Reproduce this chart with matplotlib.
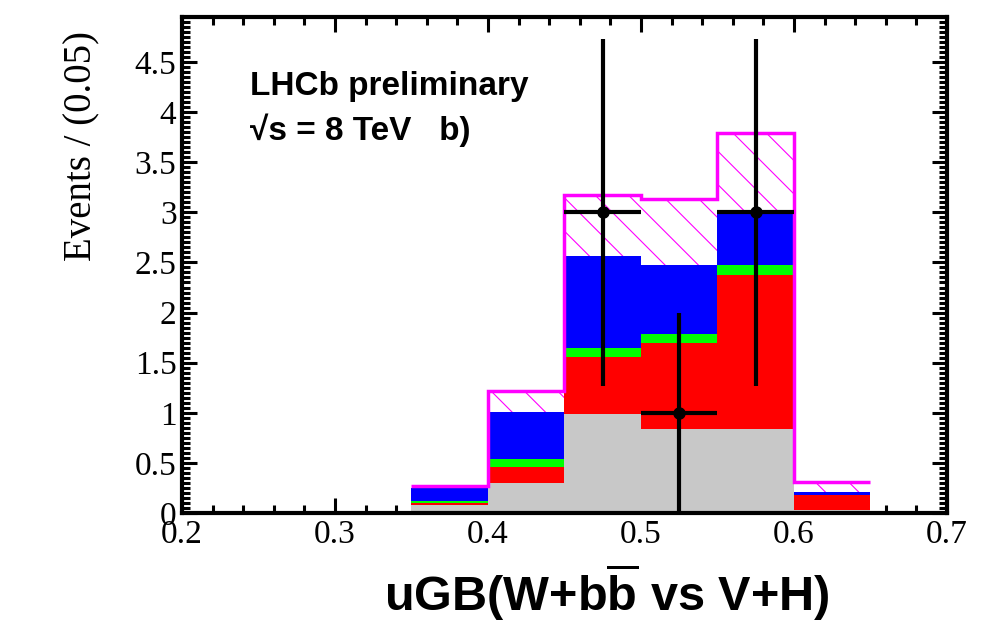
import numpy as np
import matplotlib
matplotlib.use("Agg")
import matplotlib.pyplot as plt
from matplotlib.ticker import MultipleLocator

# ------------------------------------------------------------------
# Data (stacked components per 0.05 bin)
# ------------------------------------------------------------------
bin_edges = [0.35, 0.40, 0.45, 0.50, 0.55, 0.60, 0.65]
grey_vals = [0.08, 0.30, 0.99, 0.84, 0.84, 0.03]
red_vals = [0.02, 0.16, 0.57, 0.86, 1.53, 0.15]
green_vals = [0.02, 0.08, 0.09, 0.09, 0.10, 0.00]
blue_vals = [0.13, 0.47, 0.91, 0.68, 0.54, 0.03]
hatch_vals = [0.02, 0.21, 0.61, 0.66, 0.78, 0.10]

data_x = [0.475, 0.525, 0.575]
data_y = [3.0, 1.0, 3.0]
data_yerr = [1.73, 1.0, 1.73]
data_xerr = [0.025, 0.025, 0.025]

xtick_labels = ["0.2", "0.3", "0.4", "0.5", "0.6", "0.7"]
ytick_labels = ["0", "0.5", "1", "1.5", "2", "2.5", "3", "3.5", "4", "4.5"]

plt.rcParams["mathtext.fontset"] = "custom"
plt.rcParams["mathtext.bf"] = "Liberation Sans:bold"
plt.rcParams["mathtext.rm"] = "Liberation Sans:bold"
plt.rcParams["hatch.linewidth"] = 0.8

fig = plt.figure(figsize=(10, 6.26), dpi=100)
ax = fig.add_axes([0.182, 0.1805, 0.765, 0.7925])

left = np.array(bin_edges[:-1])
width = np.diff(bin_edges)
bottom = np.zeros(len(left))
layers = [
    (grey_vals, "#c8c8c8"),
    (red_vals, "#ff0000"),
    (green_vals, "#00ff00"),
    (blue_vals, "#0000ff"),
]
for vals, col in layers:
    ax.bar(left, vals, width=width, bottom=bottom, align="edge",
           color=col, linewidth=0, zorder=2)
    bottom = bottom + np.array(vals)

# hatched top component
ax.bar(left, hatch_vals, width=width, bottom=bottom, align="edge",
       facecolor="white", edgecolor="#ff00ff", hatch="\\", linewidth=0, zorder=2)
total = bottom + np.array(hatch_vals)
ax.stairs(total, bin_edges, baseline=None, color="#ff00ff", linewidth=2.5, zorder=3)

# data points
ax.errorbar(data_x, data_y, yerr=data_yerr, xerr=data_xerr, fmt="o",
            color="black", markersize=8, elinewidth=3, capsize=0, zorder=5)

ax.set_xlim(0.2, 0.7)
ax.set_ylim(0, 4.95)
ax.xaxis.set_minor_locator(MultipleLocator(0.02))
ax.yaxis.set_minor_locator(MultipleLocator(0.05))
ax.set_xticks(np.arange(0.2, 0.71, 0.1))
ax.set_xticklabels(xtick_labels)
ax.set_yticks(np.arange(0, 4.51, 0.5))
ax.set_yticklabels(ytick_labels)

ax.tick_params(which="both", direction="in", top=True, right=True, width=2.2, zorder=6)
ax.tick_params(which="major", length=11)
ax.tick_params(which="minor", length=5.5)
ax.tick_params(axis="x", which="major", pad=5)
ax.tick_params(axis="y", which="major", pad=4)
for lab in ax.get_xticklabels() + ax.get_yticklabels():
    lab.set_fontfamily("Liberation Serif")
    lab.set_fontsize(24)
for sp in ax.spines.values():
    sp.set_linewidth(3)
    sp.set_zorder(6)

fig.text(0.082, 1 - 146 / 626, "Events / (0.05)", rotation=90, va="center", ha="center",
         fontfamily="Liberation Serif", fontsize=28)
fig.text(0.607, 1 - 592 / 626, r"uGB(W+b$\overline{\mathbf{b}}$ vs V+H)", ha="center", va="center",
         fontfamily="Liberation Sans", fontweight="bold", fontsize=35)

fig.text(0.25, 1 - 86 / 626, "LHCb preliminary", ha="left", va="center",
         fontfamily="Liberation Sans", fontweight="bold", fontsize=24)
fig.text(0.25, 1 - 130 / 626, "\u221as = 8 TeV   b)", ha="left", va="center",
         fontfamily="Liberation Sans", fontweight="bold", fontsize=24)

fig.savefig("out.png", dpi=100)
